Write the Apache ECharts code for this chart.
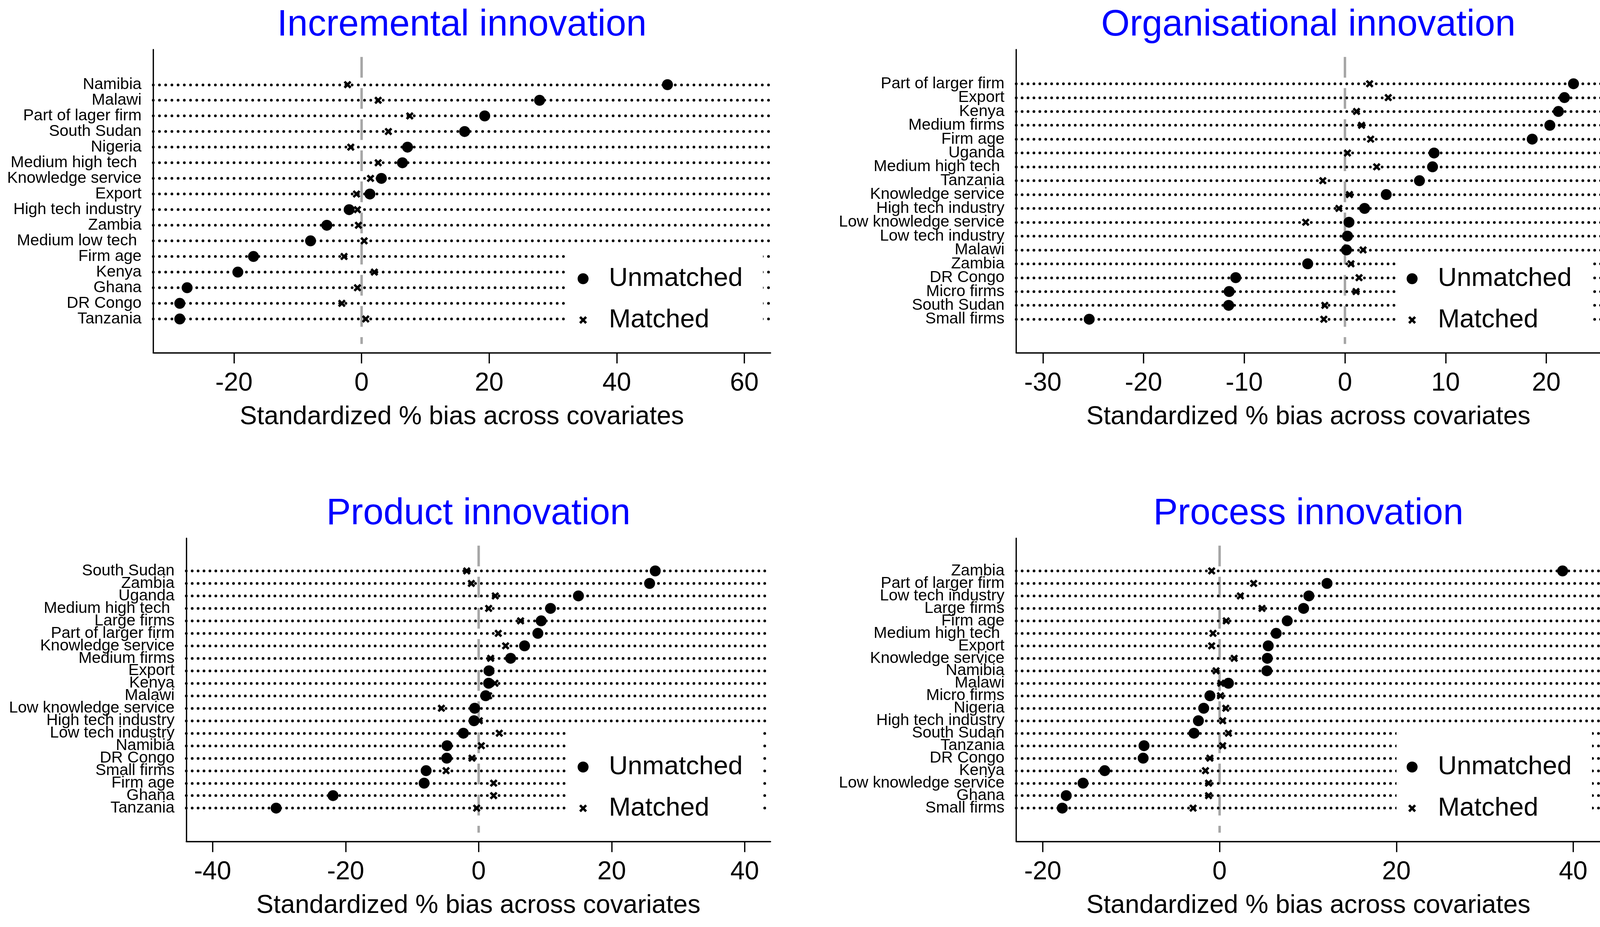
<!DOCTYPE html>
<html>
<head>
<meta charset="utf-8">
<title>Standardized % bias across covariates</title>
<script src="https://cdn.jsdelivr.net/npm/echarts@6/dist/echarts.min.js"></script>
<style>
  html, body { margin: 0; padding: 0; background: #fff; }
  #main { width: 4140px; height: 2373px; }
</style>
</head>
<body>
<div id="main"></div>
<script>
// ---- data ----
var incLabels = ['Namibia', 'Malawi', 'Part of lager firm', 'South Sudan', 'Nigeria', 'Medium high tech ',
    'Knowledge service', 'Export', 'High tech industry', 'Zambia', 'Medium low tech ', 'Firm age',
    'Kenya', 'Ghana', 'DR Congo', 'Tanzania'];
var incUnmatched = [47.95, 27.9, 19.3, 16.15, 7.2, 6.4, 3.1, 1.3, -1.95, -5.45, -8.0, -16.95, -19.4, -27.35, -28.5, -28.5];
var incMatched = [-2.2, 2.6, 7.55, 4.2, -1.7, 2.6, 1.4, -0.8, -0.65, -0.5, 0.4, -2.75, 2.0, -0.65, -3.1, 0.65];
var incTicks = [-20, 0, 20, 40, 60];

var orgLabels = ['Part of larger firm', 'Export', 'Kenya', 'Medium firms', 'Firm age', 'Uganda',
    'Medium high tech ', 'Tanzania', 'Knowledge service', 'High tech industry', 'Low knowledge service',
    'Low tech industry', 'Malawi', 'Zambia', 'DR Congo', 'Micro firms', 'South Sudan', 'Small firms'];
var orgUnmatched = [22.7, 21.8, 21.2, 20.35, 18.6, 8.85, 8.7, 7.4, 4.1, 1.95, 0.4, 0.25, 0.15, -3.7, -10.85, -11.5, -11.55, -25.4];
var orgMatched = [2.45, 4.3, 1.15, 1.65, 2.55, 0.25, 3.15, -2.2, 0.45, -0.6, -3.9, 0.2, 1.8, 0.6, 1.4, 1.1, -2.0, -2.1];
var orgTicks = [-30, -20, -10, 0, 10, 20];

var prodLabels = ['South Sudan', 'Zambia', 'Uganda', 'Medium high tech ', 'Large firms', 'Part of larger firm',
    'Knowledge service', 'Medium firms', 'Export', 'Kenya', 'Malawi', 'Low knowledge service',
    'High tech industry', 'Low tech industry', 'Namibia', 'DR Congo', 'Small firms', 'Firm age', 'Ghana', 'Tanzania'];
var prodUnmatched = [26.55, 25.7, 15.0, 10.8, 9.4, 8.9, 6.9, 4.8, 1.55, 1.5, 1.05, -0.6, -0.7, -2.3, -4.75, -4.8, -7.9, -8.2, -21.9, -30.45];
var prodMatched = [-1.8, -1.1, 2.5, 1.5, 6.3, 2.95, 4.05, 1.8, 1.8, 2.45, 1.5, -5.6, 0.1, 3.1, 0.4, -1.0, -4.9, 2.25, 2.25, -0.3];
var prodTicks = [-40, -20, 0, 20, 40];

var procLabels = ['Zambia', 'Part of larger firm', 'Low tech industry', 'Large firms', 'Firm age',
    'Medium high tech ', 'Export', 'Knowledge service', 'Namibia', 'Malawi', 'Micro firms', 'Nigeria',
    'High tech industry', 'South Sudan', 'Tanzania', 'DR Congo', 'Kenya', 'Low knowledge service', 'Ghana', 'Small firms'];
var procUnmatched = [38.8, 12.15, 10.1, 9.5, 7.65, 6.4, 5.5, 5.4, 5.35, 1.0, -1.1, -1.8, -2.4, -2.9, -8.55, -8.65, -13.0, -15.45, -17.35, -17.8];
var procMatched = [-0.9, 3.85, 2.35, 4.8, 0.75, -0.75, -0.9, 1.65, -0.4, 0.15, 0.1, 0.7, 0.35, 1.0, 0.35, -1.1, -1.6, -1.25, -1.25, -3.0];
var procTicks = [-20, 0, 20, 40];

var axisName = 'Standardized % bias across covariates';

var panels = [
    { title: 'Incremental innovation', labels: incLabels, unmatched: incUnmatched, matched: incMatched, ticks: incTicks },
    { title: 'Organisational innovation', labels: orgLabels, unmatched: orgUnmatched, matched: orgMatched, ticks: orgTicks },
    { title: 'Product innovation', labels: prodLabels, unmatched: prodUnmatched, matched: prodMatched, ticks: prodTicks },
    { title: 'Process innovation', labels: procLabels, unmatched: procUnmatched, matched: procMatched, ticks: procTicks }
];

// ---- layout (px) ----
var layout = [
    { left: 392.3, right: 1972.5, top: 126.8, bottom: 903.3, xMin: -32.66, xMax: 64.1, padT: 2.25, padB: 2.17,
      dot: 15.9, titleTop: 18, legLeft: 1452.7, legTop: 636, legPad: 44 },
    { left: 2601.5, right: 4097.5, top: 126.8, bottom: 903.3, xMin: -32.65, xMax: 25.39, padT: 2.47, padB: 2.43,
      dot: 15.1, titleTop: 18, legLeft: 3575, legTop: 658, legPad: 22 },
    { left: 476.9, right: 1972.5, top: 1377.8, bottom: 2154.3, xMin: -43.96, xMax: 43.88, padT: 2.62, padB: 2.68,
      dot: 15.1, titleTop: 1269, legLeft: 1452.7, legTop: 1861, legPad: 69 },
    { left: 2601.5, right: 4097.5, top: 1377.8, bottom: 2154.3, xMin: -23.01, xMax: 43.1, padT: 2.62, padB: 2.68,
      dot: 15.2, titleTop: 1269, legLeft: 3575, legTop: 1861, legPad: 69 }
];

var FONT = "'Liberation Sans', Arial, sans-serif";
var X_PATH = 'M0,2.2L2.2,0L5,2.8L7.8,0L10,2.2L7.2,5L10,7.8L7.8,10L5,7.2L2.2,10L0,7.8L2.8,5Z';

var measureCtx = document.createElement('canvas').getContext('2d');
function textWidth(s, size) {
    measureCtx.font = size + 'px ' + FONT;
    return measureCtx.measureText(s).width;
}

var myChart = echarts.init(document.getElementById('main'));

var option = {
    animation: false,
    backgroundColor: '#fff',
    title: [],
    legend: [],
    grid: [],
    xAxis: [],
    yAxis: [],
    series: []
};

panels.forEach(function (p, k) {
    var L = layout[k];
    var n = p.labels.length;
    var yMin = -L.padT;
    var yMax = n - 1 + L.padB;
    var rowPx = (L.bottom - L.top) / (yMax - yMin);
    var rows = p.labels.map(function (_, i) { return i; });

    option.title.push({
        text: p.title,
        left: (L.left + L.right) / 2 - textWidth(p.title, 94) / 2,
        top: L.titleTop,
        padding: 0,
        textStyle: { fontSize: 94, lineHeight: 94, fontWeight: 'normal', fontFamily: FONT, color: '#0000ff' }
    });

    option.grid.push({
        left: L.left, top: L.top,
        width: L.right - L.left, height: L.bottom - L.top,
        containLabel: false, outerBoundsMode: 'none'
    });

    option.xAxis.push({
        type: 'value', gridIndex: k, min: L.xMin, max: L.xMax,
        axisLine: { show: true, onZero: false, lineStyle: { color: '#000', width: 3.3 } },
        axisTick: { show: true, length: 27, customValues: p.ticks, lineStyle: { color: '#000', width: 3.3 } },
        axisLabel: { customValues: p.ticks, showMinLabel: true, showMaxLabel: true,
            fontSize: 66, fontFamily: FONT, color: '#000', margin: 45 },
        splitLine: { show: false },
        name: axisName, nameLocation: 'middle', nameGap: 131,
        nameTextStyle: { fontSize: 66, fontFamily: FONT, color: '#000' }
    });

    // blank labels at both ends keep the min/max-label check away from the real rows
    option.yAxis.push({
        type: 'value', gridIndex: k, inverse: true, min: yMin, max: yMax,
        axisLine: { show: true, onZero: false, lineStyle: { color: '#000', width: 3.3 } },
        axisTick: { show: false },
        splitLine: { show: false },
        axisLabel: {
            customValues: [yMin].concat(rows, [yMax]),
            showMinLabel: true, showMaxLabel: true, hideOverlap: false,
            formatter: function (v) {
                var i = Math.round(v);
                return Math.abs(v - i) < 1e-6 && p.labels[i] !== undefined ? p.labels[i] : '';
            },
            fontSize: 41, lineHeight: 28, fontFamily: FONT, color: '#000', margin: 30
        }
    });

    // grey dashed zero line, with the dotted row lines as markLines
    option.series.push({
        type: 'line', xAxisIndex: k, yAxisIndex: k, silent: true, z: 1,
        symbol: 'none',
        lineStyle: { color: '#a6a6a6', width: 6.3, type: [53, 26.7] },
        data: [[0, yMin + 19 / rowPx], [0, yMax - 22.7 / rowPx]],
        markLine: {
            silent: true, symbol: 'none', z: 3, animation: false,
            label: { show: false },
            lineStyle: { color: '#000', width: 7, type: [0.01, L.dot], cap: 'round' },
            emphasis: { disabled: true },
            data: rows.map(function (i) { return { yAxis: i }; })
        }
    });

    option.series.push({
        name: 'Unmatched', type: 'scatter', xAxisIndex: k, yAxisIndex: k, silent: true, z: 5,
        symbol: 'circle', symbolSize: 28,
        itemStyle: { color: '#000', opacity: 1 },
        data: p.unmatched.map(function (v, i) { return [v, i]; })
    });

    option.series.push({
        name: 'Matched', type: 'scatter', xAxisIndex: k, yAxisIndex: k, silent: true, z: 5,
        symbol: 'path://' + X_PATH, symbolSize: 20,
        itemStyle: { color: '#000', opacity: 1 },
        data: p.matched.map(function (v, i) { return [v, i]; })
    });

    option.legend.push({
        orient: 'vertical', left: L.legLeft, top: L.legTop,
        padding: [L.legPad, 52, 30, 26],
        backgroundColor: '#fff', z: 10,
        itemWidth: 28, itemHeight: 28, itemGap: 38.7,
        selectedMode: false,
        textStyle: { fontSize: 67, lineHeight: 67, fontFamily: FONT, color: '#000', padding: [0, 0, 0, 47] },
        data: [
            { name: 'Unmatched', icon: 'circle' },
            { name: 'Matched', icon: 'path://M-2,-2M12,12' + X_PATH }
        ]
    });
});

myChart.setOption(option);
</script>
</body>
</html>
